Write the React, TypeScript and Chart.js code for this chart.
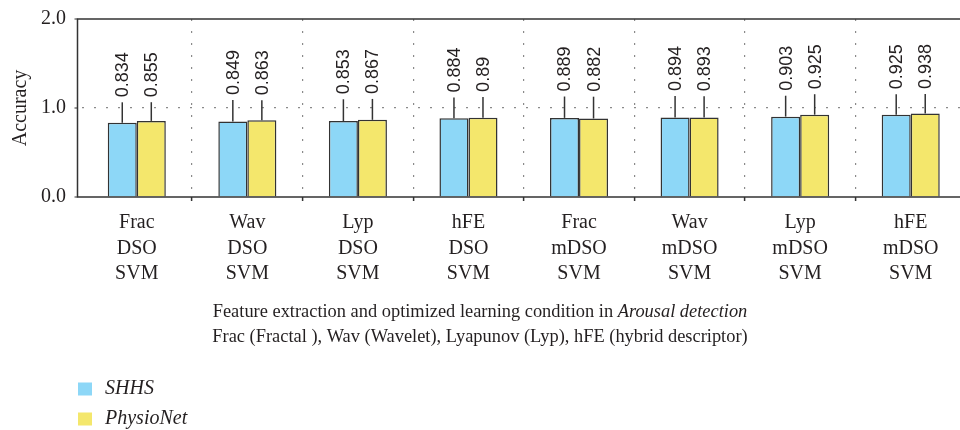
import React, { useEffect, useRef } from 'react';
import { Chart, registerables } from 'chart.js';

Chart.register(...registerables);

// ---- data ----
const categories: string[][] = [
  ['Frac', 'DSO', 'SVM'],
  ['Wav', 'DSO', 'SVM'],
  ['Lyp', 'DSO', 'SVM'],
  ['hFE', 'DSO', 'SVM'],
  ['Frac', 'mDSO', 'SVM'],
  ['Wav', 'mDSO', 'SVM'],
  ['Lyp', 'mDSO', 'SVM'],
  ['hFE', 'mDSO', 'SVM'],
];
const seriesNames = ['SHHS', 'PhysioNet'];
const shhsValues = [0.834, 0.849, 0.853, 0.884, 0.889, 0.894, 0.903, 0.925];
const physioValues = [0.855, 0.863, 0.867, 0.89, 0.882, 0.893, 0.925, 0.938];
const shhsErrors = [0.23, 0.24, 0.245, 0.235, 0.24, 0.24, 0.235, 0.23];
const physioErrors = [0.21, 0.225, 0.235, 0.235, 0.245, 0.24, 0.23, 0.22];
const yTickValues = [0, 1, 2];
const yTitle = 'Accuracy';
const xTitleLine1 = 'Feature extraction and optimized learning condition in ';
const xTitleLine1Italic = 'Arousal detection';
const xTitleLine2 = 'Frac (Fractal ), Wav (Wavelet), Lyapunov (Lyp), hFE (hybrid descriptor)';

const SERIF = '"Liberation Serif", "DejaVu Serif", serif';
const SANS = '"Liberation Sans", Arial, sans-serif';
const TEXT = '#231f20';
const BLUE = '#8dd7f7';
const YELLOW = '#f4e76c';
const EDGE = '#333333';
const DOT = '#8a8a8a';

const errorsByDataset = [shhsErrors, physioErrors];

const overlayPlugin = {
  id: 'overlay',
  afterDatasetsDraw(chart: any) {
    const ctx = chart.ctx;
    const yScale = chart.scales.y;
    ctx.save();
    chart.data.datasets.forEach((ds: any, di: number) => {
      const meta = chart.getDatasetMeta(di);
      meta.data.forEach((bar: any, i: number) => {
        const v = ds.data[i];
        const top = yScale.getPixelForValue(v + errorsByDataset[di][i]);
        ctx.strokeStyle = EDGE;
        ctx.lineWidth = 1.5;
        ctx.beginPath();
        ctx.moveTo(bar.x, bar.y);
        ctx.lineTo(bar.x, top);
        ctx.stroke();
        ctx.save();
        ctx.translate(bar.x, top - 5);
        ctx.rotate(-Math.PI / 2);
        ctx.font = `18px ${SANS}`;
        ctx.fillStyle = TEXT;
        ctx.textAlign = 'left';
        ctx.textBaseline = 'middle';
        ctx.fillText(String(v), 0, 1);
        ctx.restore();
      });
    });
    ctx.restore();
  },
  afterDraw(chart: any) {
    const ctx = chart.ctx;
    const area = chart.chartArea;
    const yScale = chart.scales.y;
    const axisX = area.left - 4;
    ctx.save();
    // frame: left axis, top line, bottom line
    ctx.strokeStyle = EDGE;
    ctx.lineWidth = 1.5;
    ctx.beginPath();
    ctx.moveTo(axisX, area.top);
    ctx.lineTo(axisX, area.bottom);
    ctx.moveTo(axisX - 0.75, area.top);
    ctx.lineTo(area.right, area.top);
    ctx.moveTo(axisX - 0.75, area.bottom);
    ctx.lineTo(area.right, area.bottom);
    ctx.stroke();
    // small y ticks
    ctx.lineWidth = 1;
    ctx.beginPath();
    yTickValues.forEach((v) => {
      const y = yScale.getPixelForValue(v);
      ctx.moveTo(axisX - 3, y);
      ctx.lineTo(axisX, y);
    });
    ctx.stroke();

    // x-axis title (centered on the page)
    const cx = 480;
    ctx.fillStyle = TEXT;
    ctx.textBaseline = 'middle';
    ctx.font = `18.4px ${SERIF}`;
    const w1 = ctx.measureText(xTitleLine1).width;
    ctx.font = `italic 18.4px ${SERIF}`;
    const w2 = ctx.measureText(xTitleLine1Italic).width;
    const start = cx - (w1 + w2) / 2;
    ctx.textAlign = 'left';
    ctx.font = `18.4px ${SERIF}`;
    ctx.fillText(xTitleLine1, start, 312);
    ctx.font = `italic 18.4px ${SERIF}`;
    ctx.fillText(xTitleLine1Italic, start + w1, 312);
    ctx.font = `18.4px ${SERIF}`;
    ctx.textAlign = 'center';
    ctx.fillText(xTitleLine2, cx, 337);

    // legend
    const legendY = [389, 419];
    chart.data.datasets.forEach((ds: any, di: number) => {
      const y = legendY[di];
      ctx.fillStyle = ds.backgroundColor;
      ctx.fillRect(78, y - 6.5, 14, 13);
      ctx.fillStyle = TEXT;
      ctx.font = `italic 20px ${SERIF}`;
      ctx.textAlign = 'left';
      ctx.textBaseline = 'middle';
      ctx.fillText(ds.label, 105, y);
    });
    ctx.restore();
  },
};

export default function App() {
  const ref = useRef<HTMLCanvasElement | null>(null);
  useEffect(() => {
    document.body.style.margin = '0';
    const canvas = ref.current;
    if (!canvas) return;
    const chart = new Chart(canvas, {
      type: 'bar',
      data: {
        labels: categories,
        datasets: [
          {
            label: seriesNames[0],
            data: shhsValues,
            backgroundColor: BLUE,
            borderColor: EDGE,
            borderWidth: 1.5,
            categoryPercentage: 0.525,
            barPercentage: 1,
          },
          {
            label: seriesNames[1],
            data: physioValues,
            backgroundColor: YELLOW,
            borderColor: EDGE,
            borderWidth: 1.5,
            categoryPercentage: 0.525,
            barPercentage: 1,
          },
        ],
      },
      options: {
        responsive: false,
        animation: false,
        devicePixelRatio: 1,
        layout: { padding: { left: 0, right: 0, top: 19, bottom: 133 } },
        plugins: {
          legend: { display: false },
          tooltip: { enabled: false },
          title: { display: false },
        },
        scales: {
          x: {
            type: 'category',
            offset: true,
            grid: {
              offset: true,
              drawOnChartArea: true,
              drawTicks: true,
              tickLength: 4,
              lineWidth: 1.2,
              color: (c: any) => (c.index === 0 || c.index === categories.length ? 'rgba(0,0,0,0)' : DOT),
              tickColor: (c: any) => (c.index === 0 || c.index === categories.length ? 'rgba(0,0,0,0)' : EDGE),
              tickWidth: 1.5,
            },
            border: { display: false, color: EDGE, width: 1.5, dash: [2, 10] },
            ticks: {
              color: TEXT,
              font: { family: SERIF, size: 20, lineHeight: '25.5px' },
              padding: 9,
              maxRotation: 0,
              autoSkip: false,
            },
            afterFit: (scale: any) => {
              scale.height = 100;
              scale.paddingLeft = 0;
              scale.paddingRight = 0;
            },
          },
          y: {
            min: 0,
            max: 2,
            afterBuildTicks: (scale: any) => {
              scale.ticks = yTickValues.map((v) => ({ value: v }));
            },
            grid: {
              drawTicks: false,
              lineWidth: 1.2,
              color: (c: any) => (c.tick && c.tick.value === 1 ? DOT : 'rgba(0,0,0,0)'),
            },
            border: { display: false, color: EDGE, width: 1.5, dash: [2, 10] },
            ticks: {
              color: TEXT,
              font: { family: SERIF, size: 20 },
              padding: 15.5,
              callback: (v: any) => Number(v).toFixed(1),
            },
            title: {
              display: true,
              text: yTitle,
              color: TEXT,
              font: { family: SERIF, size: 20 },
              padding: { top: 9, bottom: 0 },
            },
            afterFit: (scale: any) => {
              scale.width = 81.5;
              scale.paddingTop = 0;
              scale.paddingBottom = 0;
            },
          },
        },
      },
      plugins: [overlayPlugin],
    } as any);
    return () => chart.destroy();
  }, []);
  return (
    <div style={{ width: 960, height: 430, overflow: 'hidden', position: 'relative' }}>
      <canvas ref={ref} width={966} height={430} style={{ display: 'block' }} />
    </div>
  );
}
